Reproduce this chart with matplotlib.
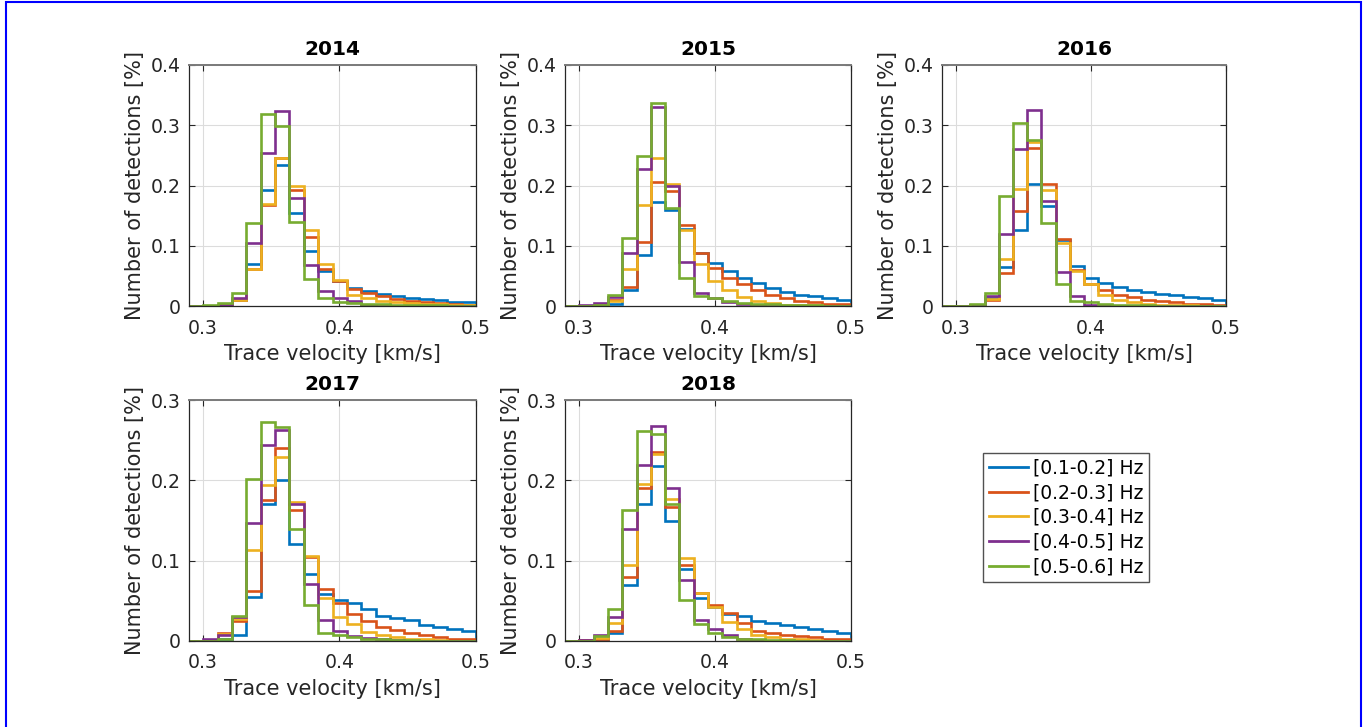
import numpy as np
import matplotlib
matplotlib.use("Agg")
from matplotlib import pyplot as plt
from matplotlib.lines import Line2D
from matplotlib.ticker import FormatStrFormatter

# bin edges of the trace velocity histograms [km/s]
edges = np.linspace(0.29, 0.5, 21)

bands = ["[0.1-0.2] Hz", "[0.2-0.3] Hz", "[0.3-0.4] Hz", "[0.4-0.5] Hz", "[0.5-0.6] Hz"]
colors = ["#0072BD", "#D95319", "#EDB120", "#7E2F8E", "#77AC30"]
years = ["2014", "2015", "2016", "2017", "2018"]

# one row per frequency band, 20 bins each
h2014 = [
    [0, 0, 0.001, 0.0105, 0.070, 0.1925, 0.234, 0.154, 0.091, 0.058, 0.0415, 0.030, 0.025, 0.020, 0.017, 0.014, 0.0116, 0.0094, 0.0072, 0.006],
    [0, 0, 0.001, 0.0105, 0.062, 0.168, 0.245, 0.193, 0.1145, 0.062, 0.042, 0.029, 0.0216, 0.016, 0.0116, 0.009, 0.0066, 0.005, 0.004, 0.002],
    [0, 0, 0.001, 0.0105, 0.061, 0.170, 0.246, 0.200, 0.1256, 0.070, 0.0426, 0.0177, 0.014, 0.009, 0.0066, 0.005, 0.004, 0.003, 0.002, 0.001],
    [0, 0, 0.002, 0.014, 0.104, 0.2545, 0.323, 0.179, 0.0686, 0.025, 0.0127, 0.008, 0.002, 0.0005, 0.0003, 0.0002, 0.0001, 0, 0, 0],
    [0, 0.001, 0.005, 0.0216, 0.137, 0.319, 0.299, 0.139, 0.045, 0.014, 0.007, 0.005, 0.004, 0.003, 0.002, 0.0015, 0.001, 0.001, 0.0005, 0.0005],
]
h2015 = [
    [0, 0, 0.001, 0.004, 0.026, 0.084, 0.173, 0.159, 0.127, 0.088, 0.0714, 0.0575, 0.047, 0.038, 0.030, 0.024, 0.019, 0.016, 0.0127, 0.0105],
    [0, 0, 0.001, 0.0105, 0.0315, 0.106, 0.205, 0.191, 0.134, 0.088, 0.0636, 0.047, 0.036, 0.027, 0.019, 0.014, 0.009, 0.006, 0.004, 0.003],
    [0, 0, 0.001, 0.008, 0.062, 0.168, 0.246, 0.203, 0.1256, 0.069, 0.0415, 0.026, 0.015, 0.008, 0.005, 0.002, 0.001, 0.001, 0.0005, 0.0005],
    [0, 0.001, 0.0055, 0.015, 0.088, 0.227, 0.330, 0.199, 0.073, 0.0216, 0.0127, 0.006, 0.003, 0.001, 0.0005, 0, 0, 0, 0, 0],
    [0, 0, 0.002, 0.018, 0.113, 0.249, 0.337, 0.163, 0.047, 0.017, 0.014, 0.008, 0.005, 0.004, 0.003, 0.002, 0.001, 0.001, 0.0005, 0.0005],
]
h2016 = [
    [0, 0, 0.001, 0.014, 0.065, 0.1256, 0.203, 0.1665, 0.110, 0.066, 0.047, 0.039, 0.0315, 0.026, 0.024, 0.020, 0.018, 0.015, 0.014, 0.0105],
    [0, 0, 0.001, 0.0105, 0.055, 0.157, 0.262, 0.202, 0.112, 0.059, 0.037, 0.027, 0.018, 0.015, 0.0105, 0.008, 0.006, 0.004, 0.003, 0.002],
    [0, 0, 0.001, 0.012, 0.0775, 0.195, 0.272, 0.192, 0.1046, 0.0575, 0.036, 0.019, 0.0105, 0.0066, 0.004, 0.002, 0.001, 0.001, 0.0005, 0.0005],
    [0, 0, 0.001, 0.016, 0.120, 0.2606, 0.325, 0.175, 0.0564, 0.017, 0.002, 0.001, 0.0005, 0, 0, 0, 0, 0, 0, 0],
    [0, 0, 0.004, 0.0216, 0.183, 0.303, 0.276, 0.138, 0.037, 0.009, 0.007, 0.004, 0.002, 0.001, 0.001, 0.0005, 0.0005, 0, 0, 0],
]
h2017 = [
    [0, 0, 0.002, 0.008, 0.055, 0.170, 0.200, 0.121, 0.083, 0.059, 0.051, 0.047, 0.040, 0.031, 0.029, 0.026, 0.0196, 0.018, 0.0146, 0.013],
    [0, 0, 0.010, 0.025, 0.0625, 0.1754, 0.240, 0.163, 0.104, 0.0646, 0.047, 0.033, 0.025, 0.018, 0.014, 0.0096, 0.007, 0.0054, 0.003, 0.002],
    [0, 0, 0.009, 0.027, 0.113, 0.1946, 0.229, 0.173, 0.106, 0.053, 0.030, 0.021, 0.011, 0.007, 0.0046, 0.003, 0.002, 0.001, 0.0005, 0.0005],
    [0, 0.002, 0.008, 0.030, 0.1475, 0.244, 0.263, 0.171, 0.071, 0.026, 0.013, 0.006, 0.004, 0.002, 0.001, 0.0005, 0, 0, 0, 0],
    [0, 0, 0.002, 0.031, 0.202, 0.273, 0.266, 0.139, 0.045, 0.0096, 0.008, 0.0046, 0.003, 0.002, 0.001, 0.001, 0.0005, 0.0005, 0, 0],
]
h2018 = [
    [0, 0, 0.001, 0.0096, 0.070, 0.170, 0.2175, 0.149, 0.0896, 0.054, 0.0425, 0.034, 0.031, 0.0246, 0.022, 0.020, 0.018, 0.0154, 0.013, 0.0096],
    [0, 0.001, 0.002, 0.012, 0.0796, 0.190, 0.235, 0.167, 0.0946, 0.060, 0.0446, 0.035, 0.023, 0.013, 0.0104, 0.008, 0.006, 0.0046, 0.003, 0.002],
    [0, 0, 0.004, 0.022, 0.0946, 0.195, 0.233, 0.177, 0.103, 0.060, 0.042, 0.024, 0.0154, 0.008, 0.005, 0.003, 0.002, 0.001, 0.0005, 0.0005],
    [0, 0.001, 0.008, 0.030, 0.140, 0.219, 0.2675, 0.191, 0.076, 0.026, 0.0146, 0.007, 0.003, 0.001, 0.0005, 0, 0, 0, 0, 0],
    [0, 0, 0.006, 0.040, 0.163, 0.261, 0.258, 0.170, 0.051, 0.021, 0.0104, 0.005, 0.003, 0.002, 0.001, 0.001, 0.0005, 0.0005, 0, 0],
]
hists = [h2014, h2015, h2016, h2017, h2018]
ymax = [0.4, 0.4, 0.4, 0.3, 0.3]

W, H = 1368, 727
fig = plt.figure(figsize=(W / 100, H / 100), dpi=100)

# axes boxes in pixels: left, top, right, bottom
boxes = [(189, 65, 476, 306), (565, 65, 851, 306), (942, 65, 1226, 306),
         (189, 400, 476, 641), (565, 400, 851, 641)]

for i in range(len(years)):
    l, t, r, b = boxes[i]
    ax = fig.add_axes([l / W, 1 - b / H, (r - l) / W, (b - t) / H])
    for k in range(len(bands)):
        ax.stairs(hists[i][k], edges, color=colors[k], lw=1.9, baseline=0)
    ax.set_xlim(0.29, 0.5)
    ax.set_ylim(0, ymax[i])
    ax.set_xticks([0.3, 0.4, 0.5])
    ax.set_yticks(np.arange(0, ymax[i] + 0.001, 0.1))
    ax.xaxis.set_major_formatter(FormatStrFormatter("%g"))
    ax.yaxis.set_major_formatter(FormatStrFormatter("%g"))
    ax.grid(True, color="#dcdcdc", lw=0.8)
    ax.set_axisbelow(True)
    ax.tick_params(direction="in", top=True, right=True, labelsize=13.6,
                   colors="#262626", length=4, width=0.8)
    ax.tick_params(axis="x", pad=9)
    ax.tick_params(axis="y", pad=6)
    for s in ax.spines.values():
        s.set_color("#262626")
        s.set_linewidth(0.9)
    ax.spines["top"].set_color("#7a7a7a")
    ax.spines["top"].set_linewidth(1.4)
    ax.set_title(years[i], fontsize=14.5, fontweight="bold", pad=7)
    ax.set_xlabel("Trace velocity [km/s]", fontsize=15, color="#262626", labelpad=5)
    ax.set_ylabel("Number of detections [%]", fontsize=15, color="#262626", labelpad=4)

handles = [Line2D([], [], color=c, lw=2) for c in colors]
fig.legend(handles, bands, loc="upper left", bbox_to_anchor=(983 / W, 1 - 453 / H),
           fontsize=13.5, frameon=True, fancybox=False, edgecolor="#262626",
           handlelength=2.1, handletextpad=0.25, borderpad=0.3, labelspacing=0.3,
           borderaxespad=0)

# blue frame round the picture
fig.add_artist(plt.Rectangle((6 / W, -0.01), (1361 - 6) / W, 1.01 - 2 / H,
                             transform=fig.transFigure, fill=False,
                             edgecolor="#0000ff", lw=1.5))

plt.savefig("out.png", dpi=100)
